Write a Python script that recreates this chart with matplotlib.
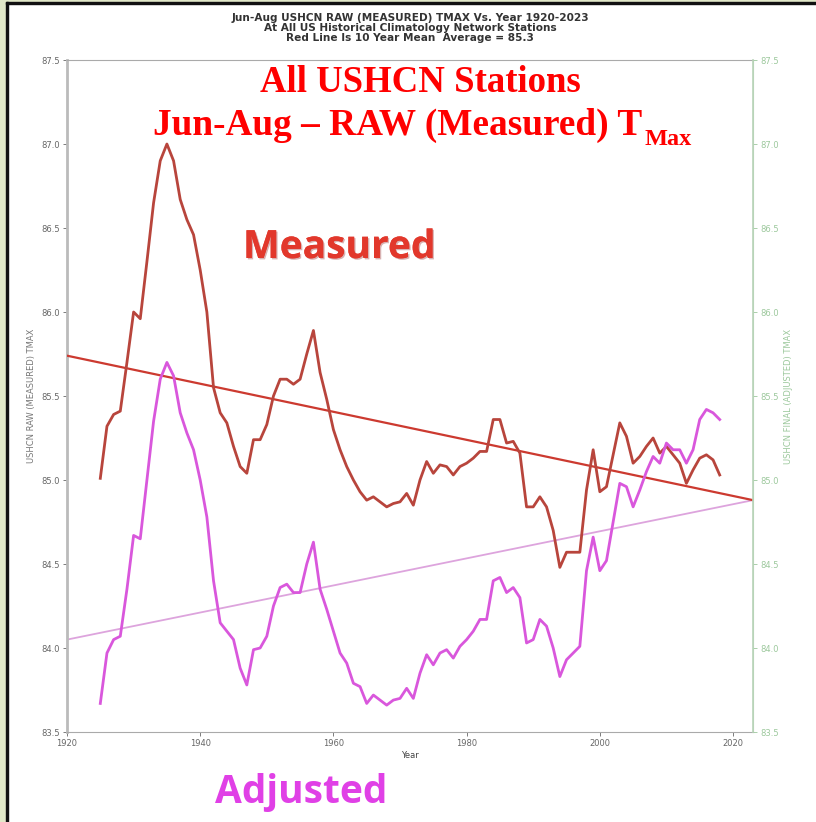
import matplotlib

matplotlib.use("Agg")
import matplotlib.pyplot as plt
from matplotlib.patches import Rectangle
import matplotlib.patheffects as pe


# 10 year running means, one value per year 1925..2018
YEARS = list(range(1925, 2019))
RAW_TMAX = [
    85.01, 85.32, 85.39, 85.41, 85.70, 86.00, 85.96, 86.30, 86.65, 86.90,
    87.00, 86.90, 86.67, 86.55, 86.46, 86.25, 86.00, 85.55, 85.40, 85.34,
    85.20, 85.08, 85.04, 85.24, 85.24, 85.33, 85.50, 85.60, 85.60, 85.57,
    85.60, 85.75, 85.89, 85.64, 85.48, 85.30, 85.18, 85.08, 85.00, 84.93,
    84.88, 84.90, 84.87, 84.84, 84.86, 84.87, 84.92, 84.85, 85.00, 85.11,
    85.04, 85.09, 85.08, 85.03, 85.08, 85.10, 85.13, 85.17, 85.17, 85.36,
    85.36, 85.22, 85.23, 85.16, 84.84, 84.84, 84.90, 84.84, 84.70, 84.48,
    84.57, 84.57, 84.57, 84.94, 85.18, 84.93, 84.96, 85.15, 85.34, 85.26,
    85.10, 85.14, 85.20, 85.25, 85.16, 85.20, 85.15, 85.10, 84.98, 85.06,
    85.13, 85.15, 85.12, 85.03,
]
ADJ_TMAX = [
    83.67, 83.97, 84.05, 84.07, 84.35, 84.67, 84.65, 85.00, 85.35, 85.60,
    85.70, 85.62, 85.40, 85.28, 85.18, 85.00, 84.78, 84.40, 84.15, 84.10,
    84.05, 83.88, 83.78, 83.99, 84.00, 84.07, 84.25, 84.36, 84.38, 84.33,
    84.33, 84.50, 84.63, 84.35, 84.23, 84.10, 83.97, 83.91, 83.79, 83.77,
    83.67, 83.72, 83.69, 83.66, 83.69, 83.70, 83.76, 83.70, 83.85, 83.96,
    83.90, 83.97, 83.99, 83.94, 84.01, 84.05, 84.10, 84.17, 84.17, 84.40,
    84.42, 84.33, 84.36, 84.30, 84.03, 84.05, 84.17, 84.13, 84.00, 83.83,
    83.93, 83.97, 84.01, 84.46, 84.66, 84.46, 84.52, 84.75, 84.98, 84.96,
    84.84, 84.94, 85.05, 85.14, 85.10, 85.22, 85.18, 85.18, 85.10, 85.18,
    85.36, 85.42, 85.40, 85.36,
]

# straight trend lines, end points only
TREND_YEARS = [1920, 2023]
RAW_TREND = [85.74, 84.88]
ADJ_TREND = [84.05, 84.88]

X_TICKS = [1920, 1940, 1960, 1980, 2000, 2020]
Y_TICKS = [83.5, 84.0, 84.5, 85.0, 85.5, 86.0, 86.5, 87.0, 87.5]

TITLE = (
    "Jun-Aug USHCN RAW (MEASURED) TMAX Vs. Year 1920-2023\n"
    "At All US Historical Climatology Network Stations\n"
    "Red Line Is 10 Year Mean  Average = 85.3"
)

W, H = 816, 822


def fx(px):
    return px / W


def fy(py):
    return 1 - py / H


def draw_slide_frame(fig):
    # bit of the slide background and its black border on the left/top
    green = "#e1e8c8"
    fig.patches.append(Rectangle((0, 0), fx(6), 1, transform=fig.transFigure,
                                 color=green, zorder=0))
    fig.patches.append(Rectangle((0, fy(2)), 1, 2 / H, transform=fig.transFigure,
                                 color=green, zorder=0))
    fig.patches.append(Rectangle((fx(5.5), 0), 2 / W, fy(2), transform=fig.transFigure,
                                 color="#111111", zorder=1))
    fig.patches.append(Rectangle((fx(5.5), fy(4)), 1, 2 / H, transform=fig.transFigure,
                                 color="#111111", zorder=1))


def main():
    fig = plt.figure(figsize=(W / 100, H / 100), dpi=100)
    fig.patch.set_facecolor("white")
    draw_slide_frame(fig)

    ax = fig.add_axes([fx(67), fy(732), fx(753) - fx(67), fy(60) - fy(732)])
    ax.plot(TREND_YEARS, RAW_TREND, color="#cc3a30", linewidth=1.6, zorder=3)
    ax.plot(TREND_YEARS, ADJ_TREND, color="#dda4dd", linewidth=1.3, zorder=2)
    ax.plot(YEARS, RAW_TMAX, color="#b8453c", linewidth=2.0, zorder=4)
    ax.plot(YEARS, ADJ_TMAX, color="#d957dc", linewidth=2.0, zorder=4)

    ax.set_xlim(1920, 2023)
    ax.set_ylim(83.5, 87.5)
    ax.set_xticks(X_TICKS)
    ax.set_yticks(Y_TICKS)
    ax.set_yticklabels([f"{v:.1f}" for v in Y_TICKS])
    ax.tick_params(labelsize=6, colors="#666666", length=3, width=0.6, pad=2)
    ax.set_xlabel("Year", fontsize=6, color="#444444", labelpad=2)
    ax.set_ylabel("USHCN RAW (MEASURED) TMAX", fontsize=6, color="#777777", labelpad=4)
    for side in ["top", "bottom"]:
        ax.spines[side].set_color("#aaaaaa")
    ax.spines["left"].set_color("#bbbbbb")
    ax.spines["left"].set_linewidth(2.0)
    ax.spines["right"].set_color("#b8d4b8")

    ax2 = ax.twinx()
    ax2.set_ylim(83.5, 87.5)
    ax2.set_yticks(Y_TICKS)
    ax2.set_yticklabels([f"{v:.1f}" for v in Y_TICKS])
    ax2.tick_params(labelsize=6, colors="#9cc89c", length=3, width=0.6, pad=2)
    ax2.set_ylabel("USHCN FINAL (ADJUSTED) TMAX", fontsize=6, color="#9cc89c", labelpad=4)
    for side in ["left", "top", "bottom"]:
        ax2.spines[side].set_visible(False)
    ax2.spines["right"].set_color("#b8d4b8")
    ax2.spines["right"].set_linewidth(1.2)

    fig.text(fx(410), fy(28), TITLE, ha="center", va="center", fontsize=7.6,
             fontweight="bold", color="#333333", linespacing=1.05)

    # slide overlays
    fig.text(fx(420), fy(92), "All USHCN Stations", ha="center", va="baseline",
             family="Liberation Serif", fontweight="bold", fontsize=26.5, color="#ff0000")
    t = fig.text(fx(153), fy(135), "Jun-Aug \u2013 RAW (Measured) T", ha="left",
                 va="baseline", family="Liberation Serif", fontweight="bold",
                 fontsize=26.8, color="#ff0000")
    ax.annotate("Max", xy=(1.0, 0.0), xycoords=t, xytext=(1.5, -1),
                textcoords="offset points", ha="left", va="baseline",
                family="Liberation Serif", fontweight="bold", fontsize=17.5,
                color="#ff0000", annotation_clip=False)

    shadow = [pe.withSimplePatchShadow(offset=(1, -1), shadow_rgbFace="#902020", alpha=0.35),
              pe.Normal()]
    fig.text(fx(243), fy(258), "Measured", ha="left", va="baseline",
             family="Open Sans", fontweight="bold", fontsize=28, color="#e2382c",
             path_effects=shadow)
    fig.text(fx(215), fy(803), "Adjusted", ha="left", va="baseline",
             family="Open Sans", fontweight="bold", fontsize=28, color="#e040e6")

    fig.savefig("out.png", dpi=100)
    plt.close(fig)


if __name__ == "__main__":
    main()
